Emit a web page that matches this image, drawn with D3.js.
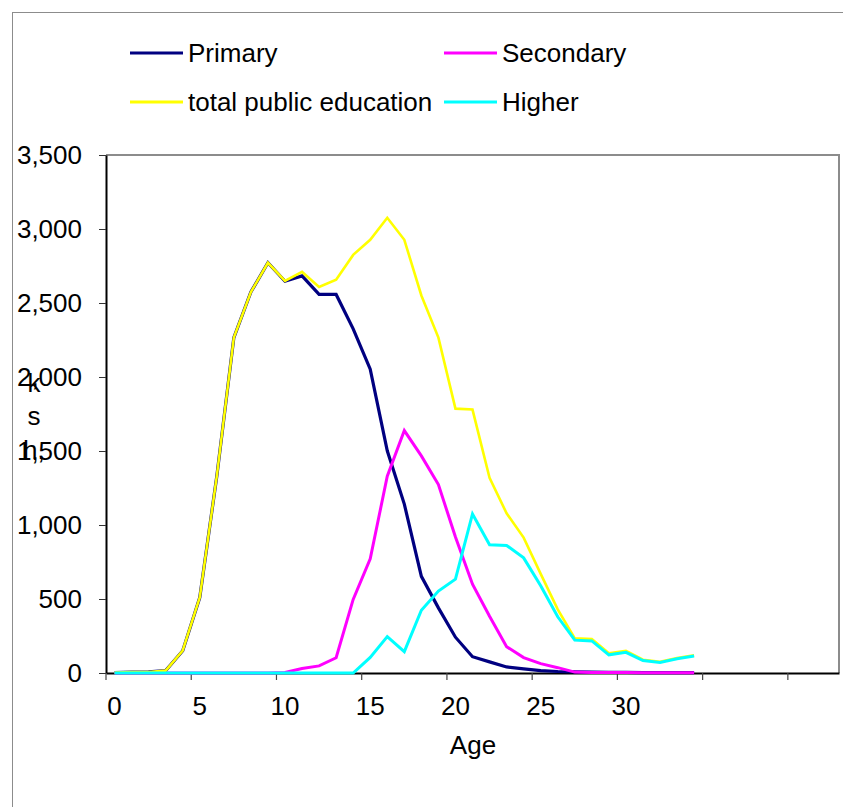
<!DOCTYPE html>
<html>
<head>
<meta charset="utf-8">
<script src="https://cdn.jsdelivr.net/npm/d3@7.9.0/dist/d3.min.js"></script>
<style>
  html, body { margin: 0; padding: 0; background: #fff; }
  svg { display: block; font-family: "Liberation Sans", Arial, sans-serif; }
</style>
</head>
<body>
<svg id="chart" width="843" height="807"></svg>
<script>
// ages shown on the category axis (extra blank categories after 34)
const ages = ['0','1','2','3','4','5','6','7','8','9','10','11','12','13','14','15','16','17',
  '18','19','20','21','22','23','24','25','26','27','28','29','30','31','32','33','34'];
const blankCategories = ['b35','b36','b37','b38','b39','b40','b41','b42'];

const primary = [3, 6, 7, 16, 150, 510, 1330, 2266, 2574, 2772, 2647, 2683, 2558, 2558, 2325,
  2053, 1501, 1141, 653, 440, 242, 110, 75, 41, 28, 16, 10, 8, 6, 5, 4, 3, 3, 3, 3];
const secondary = [0, 0, 0, 0, 0, 0, 0, 0, 0, 0, 3, 30, 48, 103, 497, 771, 1330, 1638, 1467,
  1273, 919, 600, 383, 178, 104, 63, 36, 6, 4, 3, 3, 2, 2, 2, 2];
const totalPublic = [3, 6, 7, 16, 152, 510, 1330, 2266, 2574, 2772, 2650, 2710, 2608, 2658, 2825,
  2927, 3076, 2927, 2551, 2266, 1786, 1780, 1319, 1079, 915, 670, 430, 234, 230, 133, 150, 90, 76, 101, 119];
const higher = [0, 0, 0, 0, 0, 0, 0, 0, 0, 0, 0, 0, 0, 0, 0, 105, 246, 144, 424, 554, 634,
  1075, 867, 862, 778, 590, 380, 222, 217, 123, 140, 84, 71, 96, 115];

const yTicks = [0, 500, 1000, 1500, 2000, 2500, 3000, 3500];

// drawing order = series order
const series = [
  { name: 'Primary', values: primary, color: '#000080', width: 3.2 },
  { name: 'Secondary', values: secondary, color: '#FF00FF', width: 3 },
  { name: 'total public education', values: totalPublic, color: '#FFFF00', width: 2.6 },
  { name: 'Higher', values: higher, color: '#00FFFF', width: 3 }
];

const svg = d3.select('#chart');
const fontSize = 26;

// outer chart border
svg.append('rect')
  .attr('x', 12.5).attr('y', 12.5)
  .attr('width', 900).attr('height', 900)
  .attr('fill', 'none').attr('stroke', '#8c8c8c').attr('stroke-width', 1);

const plot = { left: 106, right: 839, top: 155, bottom: 673 };

const x = d3.scaleBand()
  .domain(ages.concat(blankCategories))
  .range([plot.left, plot.right])
  .padding(0);

const y = d3.scaleLinear()
  .domain([0, 3500])
  .range([plot.bottom, plot.top]);

// top and right frame of plot area
svg.append('path')
  .attr('d', `M${plot.left},${plot.top}H${plot.right}V${plot.bottom}`)
  .attr('fill', 'none').attr('stroke', '#8c8c8c').attr('stroke-width', 2);

// y axis
const yAxis = svg.append('g')
  .attr('transform', `translate(${plot.left},0)`)
  .call(d3.axisLeft(y).tickValues(yTicks).tickFormat(d3.format(',')).tickSize(7).tickPadding(17).tickSizeOuter(0));
yAxis.select('.domain').attr('stroke', '#000').attr('stroke-width', 2);
yAxis.selectAll('.tick line').attr('stroke', '#333');
yAxis.selectAll('text').attr('font-size', fontSize).attr('fill', '#000')
  .style('font-family', '"Liberation Sans", Arial, sans-serif');

// x axis: labels every 5 categories, tick marks at category boundaries
const labelled = x.domain().filter((d, i) => i % 5 === 0 && !d.startsWith('b'));
const xAxis = svg.append('g')
  .attr('transform', `translate(0,${plot.bottom})`)
  .call(d3.axisBottom(x).tickValues(labelled).tickSize(0).tickPadding(24).tickSizeOuter(0));
xAxis.select('.domain').attr('stroke', '#000').attr('stroke-width', 2);
xAxis.selectAll('text').attr('font-size', fontSize).attr('fill', '#000')
  .style('font-family', '"Liberation Sans", Arial, sans-serif');

const tickCats = x.domain().filter((d, i) => i % 5 === 0);
svg.append('g').selectAll('line')
  .data(tickCats)
  .join('line')
  .attr('x1', (d) => x(d)).attr('x2', (d) => x(d))
  .attr('y1', plot.bottom).attr('y2', plot.bottom + 7)
  .attr('stroke', '#444').attr('stroke-width', 1.2);

// axis title
svg.append('text')
  .attr('x', 473).attr('y', 754)
  .attr('text-anchor', 'middle')
  .attr('font-size', fontSize)
  .text('Age');

// stray y-axis title letters
const yTitleBits = [
  { t: 'k', x: 34, y: 392, anchor: 'middle' },
  { t: 's', x: 34, y: 425, anchor: 'middle' },
  { t: 'h,', x: 23, y: 459, anchor: 'start' }
];
svg.append('g').selectAll('text')
  .data(yTitleBits)
  .join('text')
  .attr('x', (d) => d.x).attr('y', (d) => d.y)
  .attr('text-anchor', (d) => d.anchor)
  .attr('font-size', fontSize)
  .text((d) => d.t);

// series lines
const line = d3.line()
  .x((d, i) => x(ages[i]) + x.bandwidth() / 2)
  .y((d) => y(d));

svg.append('g').selectAll('path')
  .data(series)
  .join('path')
  .attr('d', (d) => line(d.values))
  .attr('fill', 'none')
  .attr('stroke', (d) => d.color)
  .attr('stroke-width', (d) => d.width)
  .attr('stroke-linejoin', 'miter');

// legend, two columns
const legendPos = [
  { x: 130, y: 53 }, { x: 444, y: 53 },
  { x: 130, y: 102 }, { x: 444, y: 102 }
];
const legendOrder = [series[0], series[1], series[2], series[3]];
const legend = svg.append('g').selectAll('g')
  .data(legendOrder)
  .join('g')
  .attr('transform', (d, i) => `translate(${legendPos[i].x},${legendPos[i].y})`);
legend.append('line')
  .attr('x1', 0).attr('x2', 53)
  .attr('stroke', (d) => d.color).attr('stroke-width', 3);
legend.append('text')
  .attr('x', 58).attr('y', 9)
  .attr('font-size', fontSize)
  .text((d) => d.name);
</script>
</body>
</html>
